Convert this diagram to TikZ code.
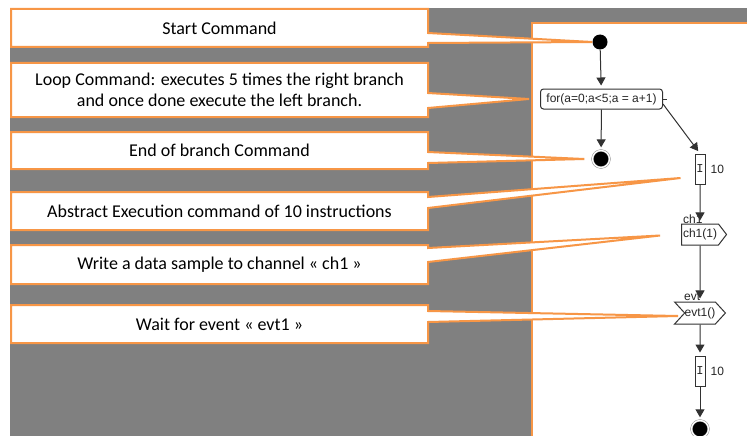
\documentclass[tikz,border=0pt]{standalone}
\usepackage{fontspec}
\setmainfont{Carlito}
\newfontfamily\umlfont{Liberation Sans}
\newfontfamily\umlmono{Liberation Mono}
\usetikzlibrary{arrows.meta, positioning, shapes.symbols}
\definecolor{noteorange}{RGB}{247,150,70}
\definecolor{slidegray}{RGB}{128,128,128}
\definecolor{umlline}{RGB}{50,50,50}
\tikzset{
  callout/.style={fill=white, draw=noteorange, line width=2pt, line join=miter},
  callouttext/.style={align=center, font=\fontsize{18}{21.5}\selectfont, text=black},
  umlnode/.style={draw=umlline, line width=1pt, fill=white, font=\umlfont\fontsize{12}{14}\selectfont, text=black!85, inner sep=0pt},
  forbox/.style={umlnode, rounded corners=3pt, minimum width=122pt, minimum height=20pt},
  execbox/.style={umlnode, font=\umlmono\fontsize{12}{14}\selectfont, minimum width=10pt, minimum height=30pt},
  initial/.style={circle, fill=black, minimum size=15pt, inner sep=0pt},
  final/.style={circle, fill=black, draw=black!55, double=white, double distance=1.4pt, minimum size=17pt, inner sep=0pt},
  sendsig/.style={umlnode, signal, signal to=east, signal pointer angle=105, minimum width=45pt, minimum height=21pt},
  recvsig/.style={umlnode, signal, signal from=west, signal pointer angle=95, minimum width=43pt, minimum height=22pt},
  lbl/.style={font=\umlfont\fontsize{12}{14}\selectfont, text=black!85, inner sep=0pt},
  flow/.style={draw=umlline, line width=1pt, -{Triangle[width=9pt,length=8pt]}, shorten >=3pt},
}
% #1 name, #2 top, #3 bottom, #4/#5 wedge on the right side, #6 tip, #7 text
\newcommand{\notebox}[7]{%
  \filldraw[callout] (11,#2) -- (428,#2) -- (428,#4) -- (#6) -- (428,#5) -- (428,#3) -- (11,#3) -- cycle;
  \node[callouttext] (#1) at (219.5,{(#2+#3)/2}) {#7};}

\begin{document}
\begin{tikzpicture}[x=1pt, y=-1pt]
  \useasboundingbox (0,0) rectangle (747,436);
  \fill[slidegray] (10,8) rectangle (747,436);
  % activity panel
  \filldraw[fill=white, draw=noteorange, line width=2pt] (532,23) rectangle (760,450);

  \node[initial] (start) at (600,42) {};
  \node[forbox] (for) at (601.5,99) {for(a=0;a<5;a = a+1)};
  \node[final] (end1) at (601,159) {};
  \node[execbox] (exec1) at (700,169) {I};
  \node[lbl, right=5pt of exec1] (exec1lbl) {10};
  \node[lbl, anchor=south west] (sendlbl) at (683,224) {ch1};
  \node[sendsig] (send) at (700,234.5) {ch1(1)};
  \node[lbl, anchor=south west] (recvlbl) at (684,301) {evt};
  \node[recvsig] (recv) at (700,313) {evt1()};
  \node[execbox] (exec2) at (700,371) {I};
  \node[lbl, right=5pt of exec2] (exec2lbl) {10};
  \node[final] (end2) at (700,429) {};

  \draw[umlline, line width=1pt] (for.east) -- ++(4,0);
  \draw[flow] (start) -- (for);
  \draw[flow] (for) -- (end1);
  \draw[flow] ([yshift=-5pt]for.east) -- (exec1.north);
  \draw[flow] (exec1) -- (send);
  \draw[flow] (send) -- (recv);
  \draw[flow] (recv) -- (exec2);
  \draw[flow] (exec2) -- (end2);

  % callout tips
  \coordinate (starttip) at (start.west);
  \coordinate (looptip) at ([xshift=-11pt]for.west);
  \coordinate (endtip) at ([xshift=-8pt]end1.west);
  \coordinate (exectip) at ([xshift=-14pt,yshift=-9pt]exec1.west);
  \coordinate (sendtip) at ([xshift=-21pt,yshift=-1pt]send.west);
  \coordinate (recvtip) at ([xshift=-6pt,yshift=-3pt]recv.west);

  \notebox{startnote}{9}{47}{33}{43}{starttip}{Start Command}
  \notebox{loopnote}{63}{117}{93}{108}{looptip}{Loop Command: executes 5 times the right branch\\and once done execute the left branch.}
  \notebox{endnote}{132}{169}{152}{163}{endtip}{End of branch Command}
  \notebox{execnote}{192}{230}{197}{208}{exectip}{Abstract Execution command of 10 instructions}
  \notebox{sendnote}{245}{284}{248}{262}{sendtip}{Write a data sample to channel « ch1 »}
  \notebox{recvnote}{305}{343}{311}{322}{recvtip}{Wait for event « evt1 »}
\end{tikzpicture}
\end{document}
